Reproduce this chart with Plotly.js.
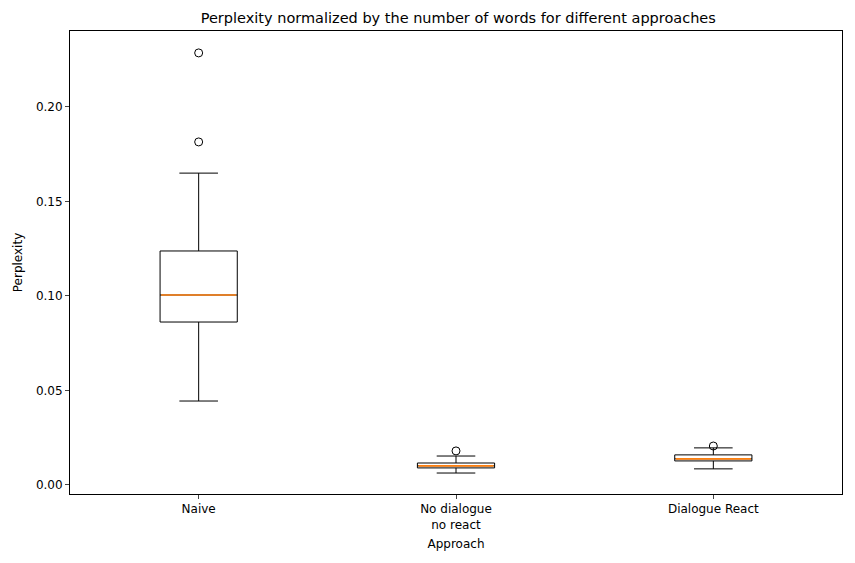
<!DOCTYPE html>
<html>
<head>
<meta charset="utf-8">
<script src="https://cdn.plot.ly/plotly-3.0.1.min.js"></script>
<style>body{margin:0;background:#fff}#chart{width:855px;height:563px}</style>
</head>
<body>
<div id="chart"></div>
<script>
// Approaches and box statistics
const categories = ["Naive", "No dialogue<br>no react", "Dialogue React"];
const positions = [1, 2, 3];
const lowerWhisker = [0.0444, 0.0063, 0.0085];
const q1 = [0.0862, 0.0090, 0.0127];
const median = [0.1005, 0.0101, 0.0138];
const q3 = [0.1238, 0.0116, 0.0159];
const upperWhisker = [0.1650, 0.0153, 0.0196];
const outlierX = [1, 1, 2, 3];
const outlierY = [0.2286, 0.1815, 0.0180, 0.0206];

const HALF = 0.15; // half box width in x units

const traces = [{
  type: "box",
  x: positions,
  q1, median, q3,
  lowerfence: lowerWhisker,
  upperfence: upperWhisker,
  width: HALF * 2,
  whiskerwidth: 0.5,
  fillcolor: "rgba(255,255,255,0)",
  line: { color: "black", width: 1 },
  boxpoints: false,
  hoverinfo: "skip",
  showlegend: false,
}];

// Orange median lines, matplotlib-style
positions.forEach((p, i) => {
  traces.push({
    type: "scatter", mode: "lines",
    x: [p - HALF + 0.004, p + HALF - 0.004], y: [median[i], median[i]],
    line: { color: "#ff7f0e", width: 1.6 },
    showlegend: false, hoverinfo: "skip",
  });
});

traces.push({
  type: "scatter", mode: "markers",
  x: outlierX, y: outlierY,
  marker: { symbol: "circle-open", size: 8, color: "black", line: { width: 1 } },
  showlegend: false,
});

const layout = {
  width: 855, height: 563,
  margin: { l: 70, r: 13, t: 31, b: 69 },
  paper_bgcolor: "white", plot_bgcolor: "white",
  font: { family: "DejaVu Sans", size: 12, color: "black" },
  title: { text: "Perplexity normalized by the number of words for different approaches",
           font: { size: 14.5 }, x: 0.536, xanchor: "center",
           yref: "container", y: 0.968, yanchor: "middle" },
  xaxis: {
    range: [0.5, 3.5], tickmode: "array", tickvals: positions, ticktext: categories,
    showline: true, mirror: true, linecolor: "black", ticks: "outside", ticklen: 4,
    showgrid: false, zeroline: false,
    title: { text: "Approach", standoff: 8, font: { size: 12 } },
  },
  yaxis: {
    range: [-0.0048, 0.2402], tickvals: [0, 0.05, 0.1, 0.15, 0.2], tickformat: ".2f",
    showline: true, mirror: true, linecolor: "black", ticks: "outside", ticklen: 4,
    showgrid: false, zeroline: false,
    title: { text: "Perplexity", standoff: 10, font: { size: 12 } },
  },
};

Plotly.newPlot("chart", traces, layout, { displayModeBar: false, staticPlot: true });
</script>
</body>
</html>
